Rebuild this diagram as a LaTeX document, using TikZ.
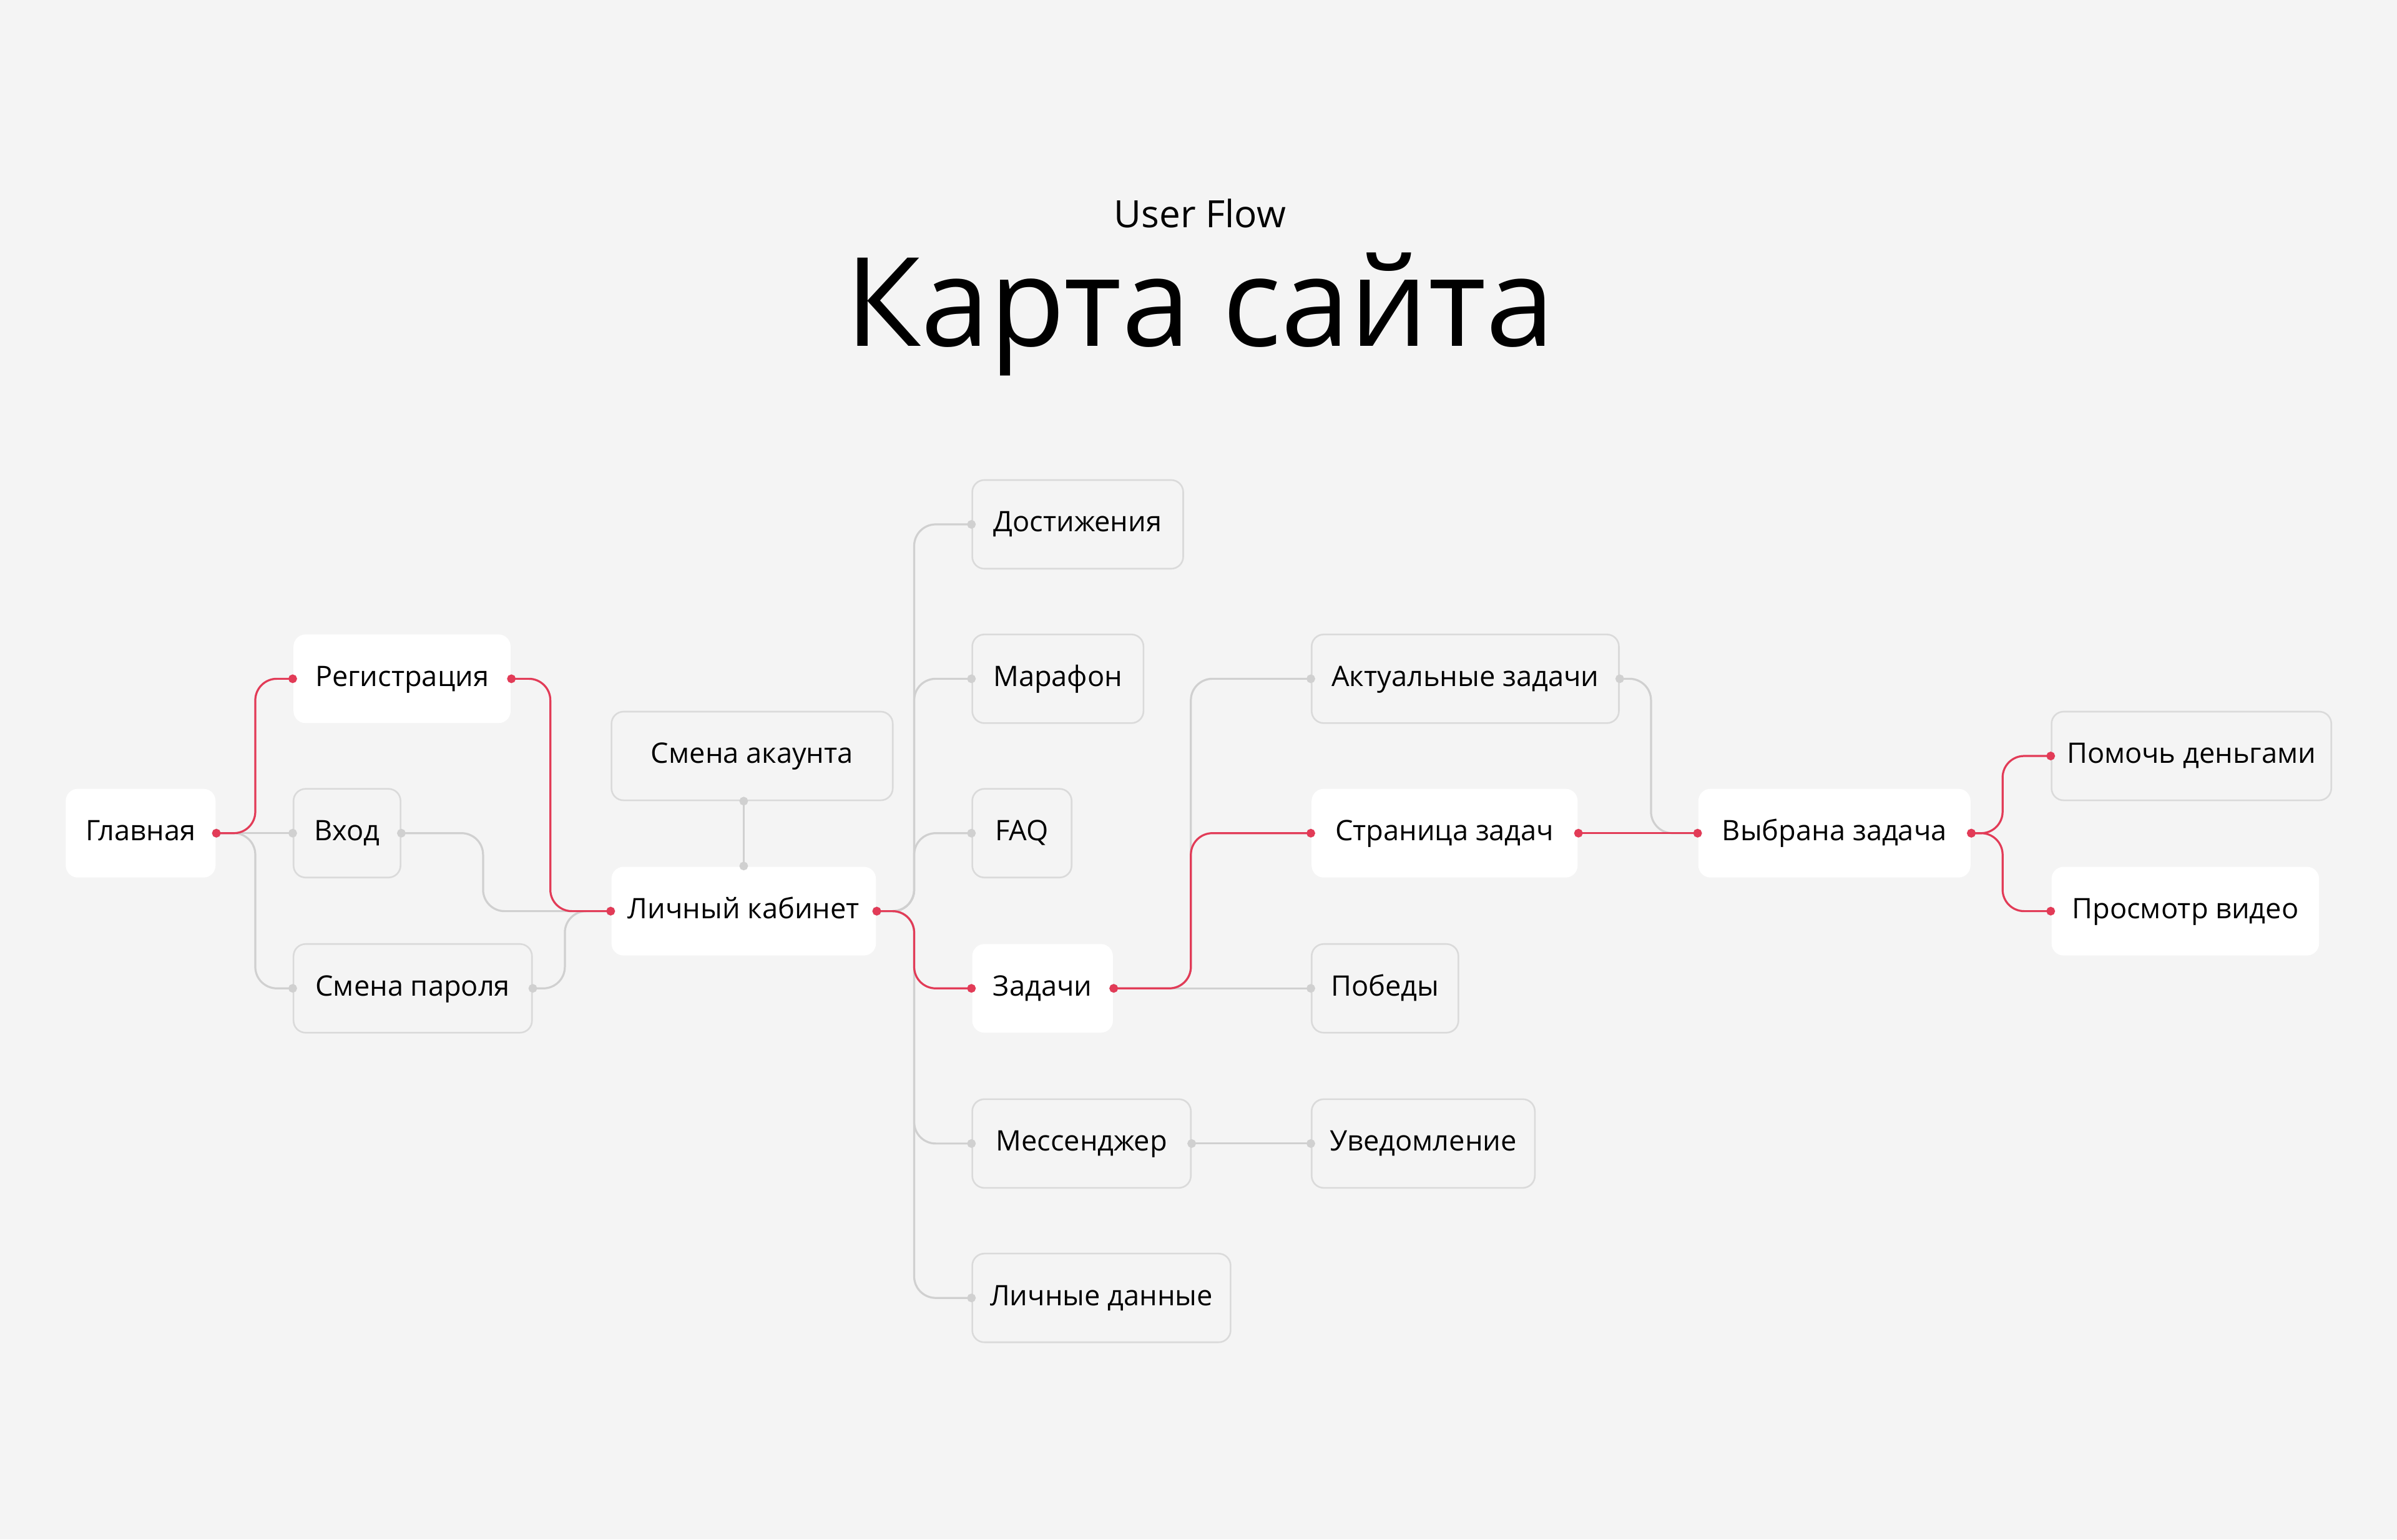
\documentclass[tikz,border=0pt]{standalone}
\usepackage{fontspec}
\setmainfont{Open Sans}
\usetikzlibrary{arrows.meta,positioning}

\definecolor{bgpaper}{HTML}{F4F4F4}
\definecolor{boxline}{HTML}{DADADA}
\definecolor{linegray}{HTML}{D0D0D0}
\definecolor{accent}{HTML}{E23B57}
\newcommand{\pagefont}{\fontsize{10.5pt}{12pt}\selectfont}

\begin{document}
\begin{tikzpicture}[x=0.2mm, y=-0.2mm,
    page/.style={rectangle, rounded corners=4.5pt, draw=boxline, line width=0.6pt, minimum height=11.6mm, inner xsep=0pt, text height=7.5pt, text depth=2pt, font=\pagefont},
    active/.style={page, draw=none, fill=white},
    link/.style={draw=linegray, line width=0.75pt, rounded corners=8pt, {Circle[length=3.2pt]}-{Circle[length=3.2pt]}, shorten <=-1.6pt, shorten >=-1.6pt},
    redlink/.style={link, draw=accent}
]
% Background
\fill[bgpaper] (0,0) rectangle (1568,1007);

% Title
\node[anchor=base, font=\fontsize{14pt}{16pt}\selectfont] (sub) at (785,149) {User Flow};
\node[anchor=base, font=\fontsize{46pt}{52pt}\selectfont] (title) at (785,226.6) {Карта сайта};

% Pages
\node[active, minimum width=19.6mm] (glav) at (92,545) {Главная};
\node[active, minimum width=28.4mm] (reg) at (263,444) {Регистрация};
\node[page, minimum width=14mm] (vhod) at (227,545) {Вход};
\node[page, minimum width=31.2mm] (smpar) at (270,646.5) {Смена пароля};
\node[page, minimum width=36.8mm] (smacc) at (492,494.5) {Смена акаунта};
\node[active, minimum width=34.6mm] (lk) at (486.5,596) {Личный кабинет};
\node[page, minimum width=27.6mm] (dost) at (705,343) {Достижения};
\node[page, minimum width=22.4mm] (mar) at (692,444) {Марафон};
\node[page, minimum width=13mm] (faq) at (668.5,545) {FAQ};
\node[active, minimum width=18.4mm] (zad) at (682,646.5) {Задачи};
\node[page, minimum width=28.6mm] (mess) at (707.5,748) {Мессенджер};
\node[page, minimum width=33.8mm] (lichd) at (720.5,849) {Личные данные};
\node[page, minimum width=40.2mm] (aktz) at (958.5,444) {Актуальные задачи};
\node[active, minimum width=34.8mm] (strz) at (945,545) {Страница задач};
\node[page, minimum width=19.2mm] (pob) at (906,646.5) {Победы};
\node[page, minimum width=29.2mm] (uved) at (931,748) {Уведомление};
\node[active, minimum width=35.6mm] (vybr) at (1200,545) {Выбрана задача};
\node[page, minimum width=36.6mm] (pomo) at (1433.5,494.5) {Помочь деньгами};
\node[active, minimum width=35mm] (prosm) at (1429.5,596) {Просмотр видео};

% Buses
\coordinate (busA) at (167,0);
\coordinate (busB) at (316,0);
\coordinate (busC) at (360,0);
\coordinate (busD) at (369.5,0);
\coordinate (busE) at (598,0);
\coordinate (busF) at (779,0);
\coordinate (busG) at (1080,0);
\coordinate (busH) at (1310,0);

% Grey links
\draw[link] (glav.east) -- (vhod.west);
\draw[link] (glav.east) -| (busA |- smpar.west) -- (smpar.west);
\draw[link] (vhod.east) -| (busB |- lk.west) -- (lk.west);
\draw[link] (smpar.east) -| (busD |- lk.west) -- (lk.west);
\draw[link] (smacc.south -| lk.north) -- (lk.north);
\foreach \dest in {dost, mar, faq, mess, lichd}
    \draw[link] (lk.east) -| (busE |- \dest.west) -- (\dest.west);
\draw[link] (zad.east) -- (pob.west);
\draw[link] (zad.east) -| (busF |- aktz.west) -- (aktz.west);
\draw[link] (mess.east) -- (uved.west);
\draw[link] (aktz.east) -| (busG |- vybr.west) -- (vybr.west);

% Red path
\draw[redlink] (glav.east) -| (busA |- reg.west) -- (reg.west);
\draw[redlink] (reg.east) -| (busC |- lk.west) -- (lk.west);
\draw[redlink] (lk.east) -| (busE |- zad.west) -- (zad.west);
\draw[redlink] (zad.east) -| (busF |- strz.west) -- (strz.west);
\draw[redlink] (strz.east) -- (vybr.west);
\draw[redlink] (vybr.east) -| (busH |- pomo.west) -- (pomo.west);
\draw[redlink] (vybr.east) -| (busH |- prosm.west) -- (prosm.west);

\end{tikzpicture}
\end{document}
